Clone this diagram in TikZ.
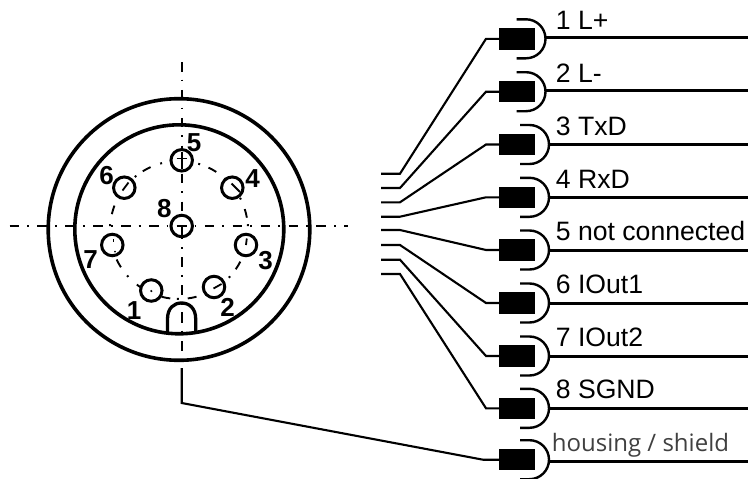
\documentclass[tikz,border=0pt]{standalone}
\usepackage{fontspec}
\setmainfont{Liberation Sans}
\newfontfamily\housefont{Open Sans}
\tikzset{
  ringline/.style={line width=3.6pt},
  axisline/.style={line width=2.1pt,dash pattern=on 9.6pt off 8pt on 1.8pt off 8.5pt},
  pincircle/.style={circle,draw,fill=white,line width=3pt,minimum size=21.5pt,inner sep=0pt},
  pintick/.style={line width=1.8pt},
  pinlabel/.style={font=\fontsize{26}{26}\selectfont\bfseries,inner sep=0pt},
  wirelabel/.style={font=\fontsize{26.6}{26.6}\selectfont,inner sep=0pt,anchor=base west},
  houselabel/.style={font=\housefont\fontsize{24}{24}\selectfont,text=black!75,inner sep=0pt,anchor=base west},
  blockbox/.style={fill=black,minimum width=36pt,minimum height=21.5pt,inner sep=0pt},
  wireline/.style={line width=2.1pt},
  outline/.style={line width=3pt},
  cupline/.style={line width=2.4pt},
}
\begin{document}
\begin{tikzpicture}[x=1pt,y=1pt,yscale=-1]
\useasboundingbox (0,0) rectangle (748,479);
% axes
\draw[axisline] (9.5,226) -- (348,226);
\draw[axisline] (181.7,62) -- (181.7,362);
% rings
\draw[ringline] (179,229.5) circle[radius=130.8];
\draw[ringline] (179.3,229.3) circle[radius=104.5];
% pitch circle
\foreach \a in {61,38,14,-31,-58,-79,-101,-124,-151,163,118}
  \draw[line width=1.9pt] ({179+69*cos(\a-3.7)},{230-69*sin(\a-3.7)}) arc[radius=69,start angle={-(\a-3.7)},end angle={-(\a+3.7)}];
\foreach \a in {73,48,27,4,-43,-91,-138,176,129,105}
  \draw[line width=2pt] ({179+69*cos(\a-0.8)},{230-69*sin(\a-0.8)}) arc[radius=69,start angle={-(\a-0.8)},end angle={-(\a+0.8)}];
% key
\draw[line width=3.3pt] (167.5,333) -- (167.5,319) .. controls (167.5,308) and (174,303) .. (181.5,303) .. controls (189,303) and (195.7,308) .. (195.7,319) -- (195.7,333);
\draw[line width=2.1pt] (181.7,312) -- (181.7,323);
% pins
\node[pincircle] (p5) at (181.7,160.3) {};
\node[pincircle] (p6) at (124.3,187.7) {};
\node[pincircle] (p4) at (232.3,187.7) {};
\node[pincircle] (p8) at (181.7,226) {};
\node[pincircle] (p7) at (112.3,245) {};
\node[pincircle] (p3) at (246,245) {};
\node[pincircle] (p1) at (151.3,290.5) {};
\node[pincircle] (p2) at (214,287) {};
% pin marks
\draw[pintick] (176.5,158.5) -- (187,158.5);
\draw[pintick] (181.7,152) -- (181.7,169);
\draw[pintick] (176.5,226) -- (187,226);
\draw[pintick] (181.7,226) -- (181.7,236);
\draw[pintick] (122.5,190.5) -- (128.5,182.5);
\draw[pintick] (231.5,183.5) -- (240,192);
\draw[pintick] (246,245) -- (246.8,238.5);
\draw[pintick] (113.5,241.5) -- (113.5,238.5);
\fill (115,251.5) circle[radius=1];
\fill (151.3,291) circle[radius=1.2];
\draw[pintick] (213.5,288.5) -- (221.5,284);
% pin numbers
\node[pinlabel] (n5) at (194,143) {5};
\node[pinlabel] (n6) at (106.7,176) {6};
\node[pinlabel] (n4) at (252.7,179) {4};
\node[pinlabel] (n8) at (164.3,208.7) {8};
\node[pinlabel] (n7) at (90.7,260) {7};
\node[pinlabel] (n3) at (265.7,260.7) {3};
\node[pinlabel] (n1) at (134,310.7) {1};
\node[pinlabel] (n2) at (227.7,307) {2};
% wires
\foreach \i/\sy/\by/\wy/\cx/\ty/\txt in {
  1/173.7/38.8/37.5/526/30/{1 L+},
  2/188/91.7/90.5/526/82.7/{2 L-},
  3/202.3/144.5/144.5/529.5/135.7/{3 TxD},
  4/216.7/197.3/197.3/529.5/188.7/{4 RxD},
  5/230/250/250.3/529.5/240.7/{5 not connected},
  6/245/303/303/529.5/293.3/{6 IOut1},
  7/259.7/356/356/529.5/346.7/{7 IOut2},
  8/274/408.3/408.3/529.5/398.3/{8 SGND}}{
  \coordinate (s\i) at (381,\sy);
  \coordinate (t\i) at (400,\sy);
  \coordinate (k\i) at (486,\by);
  \node[blockbox] (b\i) at (517,\by) {};
  \coordinate (a\i) at ({\cx+19.5},\wy);
  \coordinate (e\i) at (748,\wy);
  \draw[wireline] (s\i) -- (t\i) -- (k\i) -- (b\i.west);
  \draw[outline] (a\i) -- (e\i);
  \draw[cupline] ({\cx-9.5},{\by-19.5}) -- (\cx,{\by-19.5}) arc[radius=19.5,start angle=-90,end angle=90] -- ({\cx-9.5},{\by+19.5});
  \node[wirelabel] (l\i) at (555.7,\ty) {\txt};
}
% housing
\coordinate (hs) at (181.7,368);
\coordinate (hb) at (181.7,403);
\coordinate (hk) at (483,459.7);
\node[blockbox] (b9) at (517,459.7) {};
\coordinate (a9) at (549,461);
\coordinate (e9) at (748,461);
\draw[wireline] (hs) -- (hb) -- (hk) -- (b9.west);
\draw[outline] (a9) -- (e9);
\draw[cupline] (520,440.2) -- (529.5,440.2) arc[radius=19.5,start angle=-90,end angle=90] -- (520,479.2);
\node[houselabel] (l9) at (551.7,451.7) {housing / shield};
\end{tikzpicture}
\end{document}
